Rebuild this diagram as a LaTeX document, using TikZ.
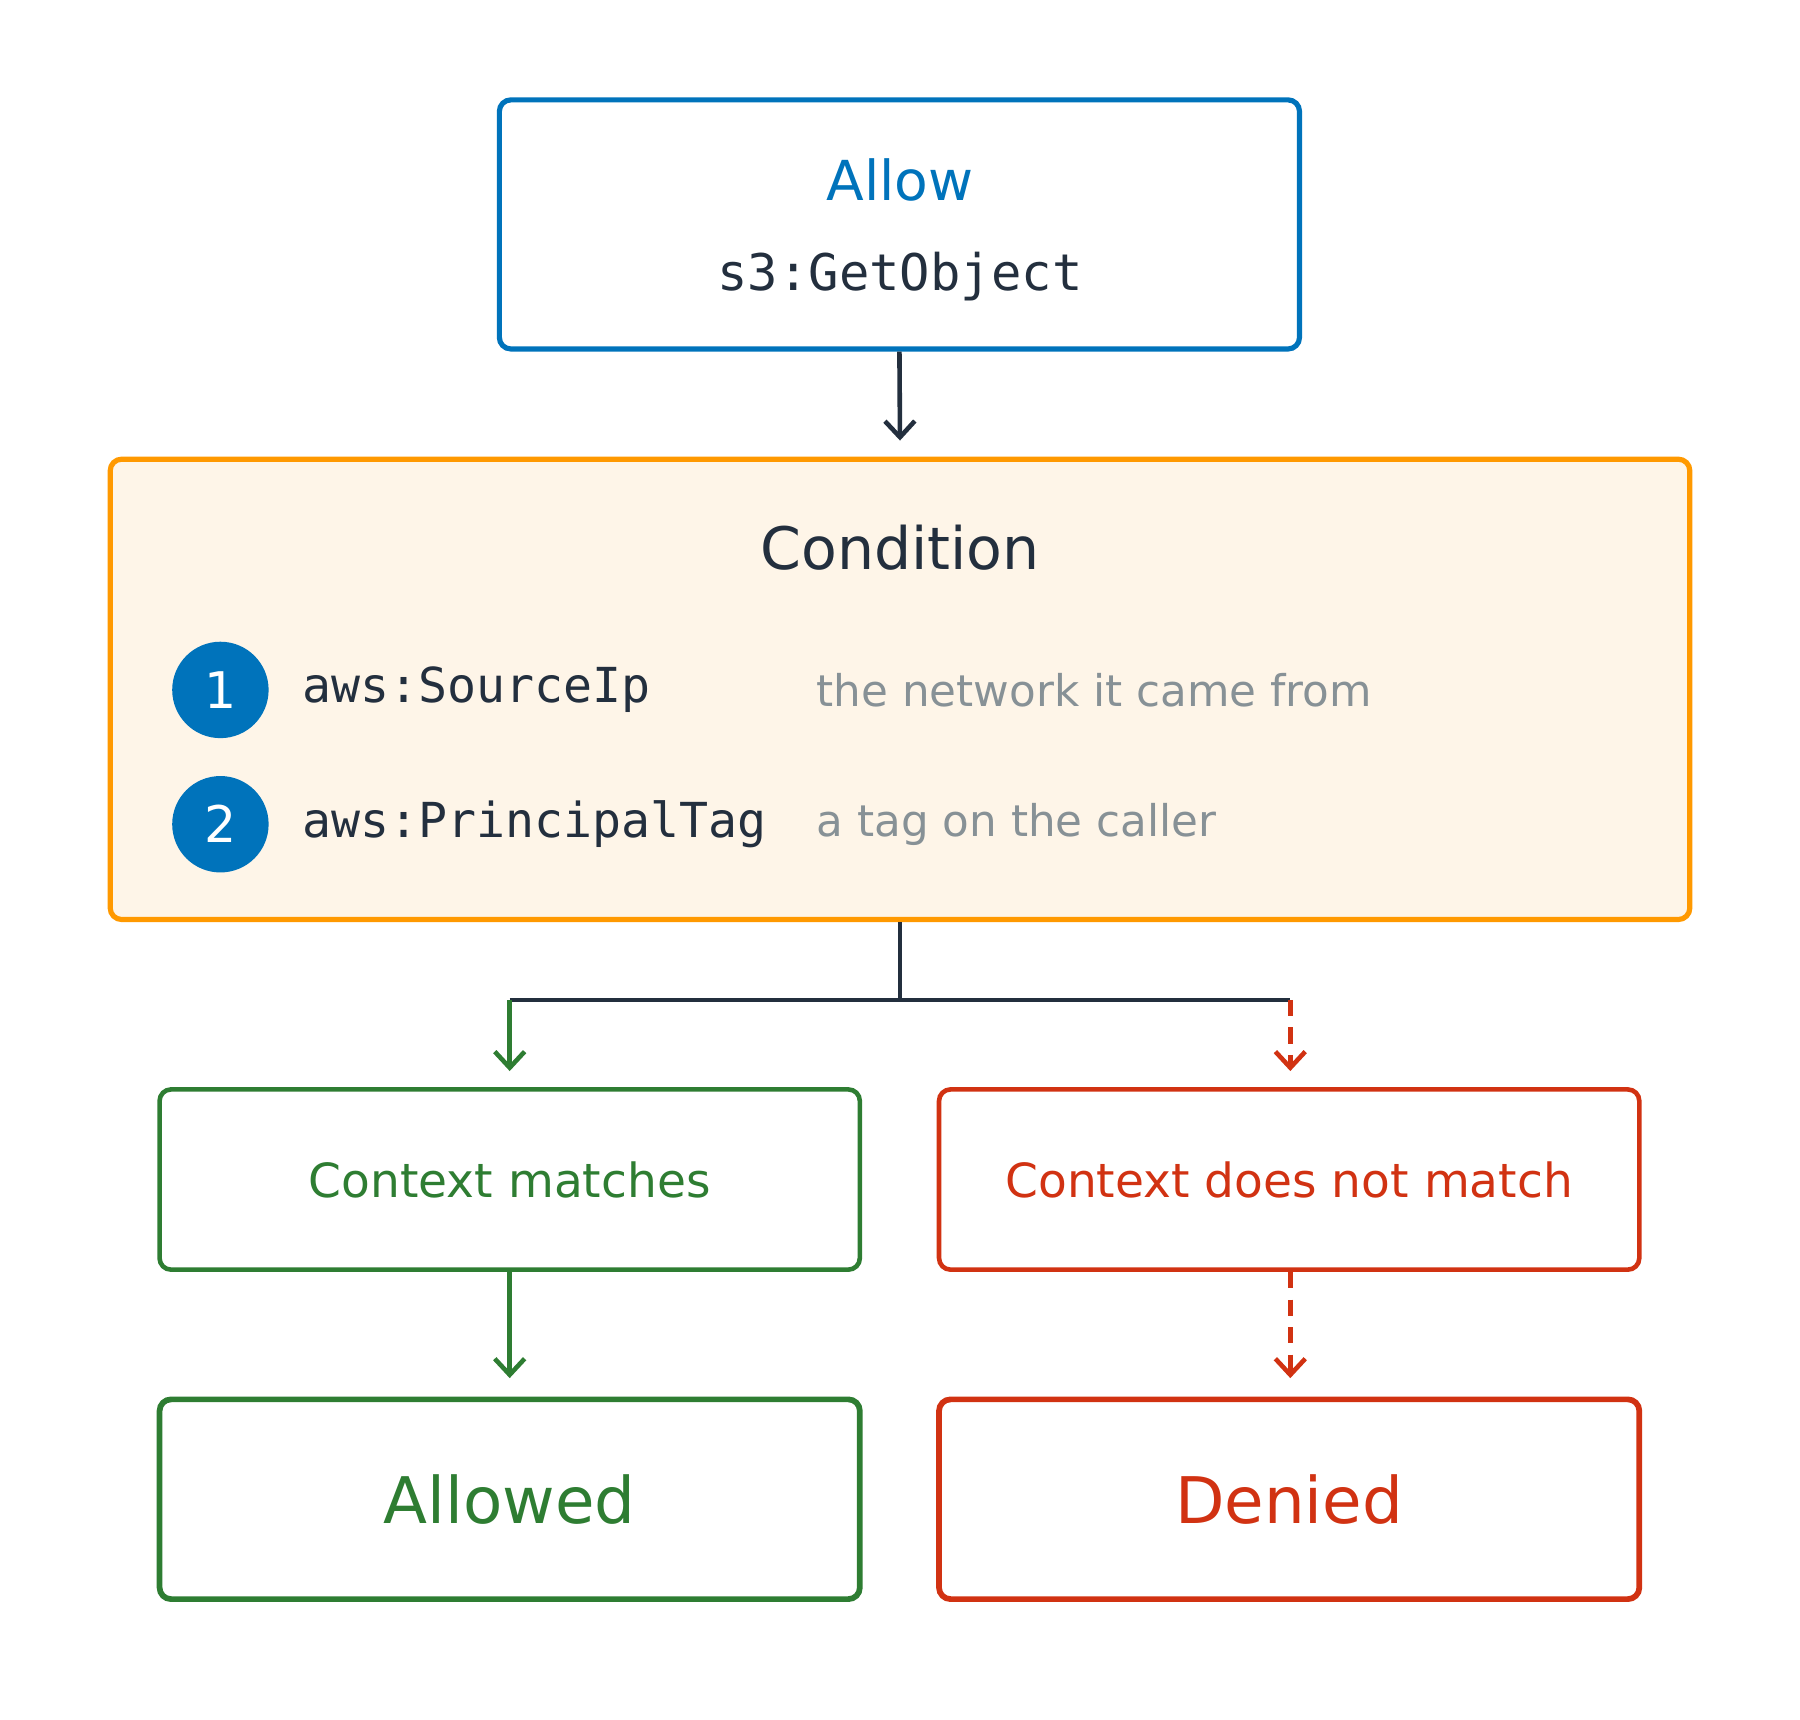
\documentclass[tikz,border=0pt]{standalone}
\usepackage{fontspec}
\setmainfont{DejaVu Sans}
\newfontfamily\mono{DejaVu Sans Mono}
\usetikzlibrary{arrows.meta}
\definecolor{awsblue}{HTML}{0073BB}
\definecolor{ink}{HTML}{232F3E}
\definecolor{okgreen}{HTML}{2E7D32}
\definecolor{nored}{HTML}{D13212}
\definecolor{muted}{HTML}{879196}
\definecolor{orng}{HTML}{FF9900}
\definecolor{cream}{HTML}{FEF5E8}
\begin{document}
\begin{tikzpicture}[x=1pt,y=-1pt,
  box/.style={draw,line width=4.5pt,rounded corners=10pt,inner sep=0pt},
  arr/.style={line width=4.5pt,-{Straight Barb[length=14pt,width=26pt,line width=4pt]}},
  num/.style={circle,fill=awsblue,minimum size=84pt,inner sep=0pt,text=white,font=\fontsize{44}{44}\selectfont},
  code/.style={anchor=west,text=ink,font=\mono\fontsize{42}{42}\selectfont},
  desc/.style={anchor=west,text=muted,font=\fontsize{38}{38}\selectfont}]
\useasboundingbox (0,0) rectangle (1568,1498);
\node[box,draw=awsblue,minimum width=697pt,minimum height=217pt] (allow) at (783.5,195.5) {};
\node[text=awsblue,font=\fontsize{48}{48}\selectfont] (allowt) at (784,157) {Allow};
\node[text=ink,font=\mono\fontsize{44}{44}\selectfont] (act) at (784,241) {s3:GetObject};
\node[box,draw=orng,fill=cream,minimum width=1376pt,minimum height=401pt] (cond) at (784,600.5) {};
\node[text=ink,font=\fontsize{51}{51}\selectfont] (condt) at (784,477) {Condition};
\node[num] (n1) at (192,601) {1};
\node[num] (n2) at (192,718) {2};
\node[code] (k1) at (260,601) {aws:SourceIp};
\node[code] (k2) at (260,718) {aws:PrincipalTag};
\node[desc] (d1) at (708,601) {the network it came from};
\node[desc] (d2) at (708,718) {a tag on the caller};
\node[box,draw=okgreen,line width=4pt,minimum width=610pt,minimum height=157pt,text=okgreen,font=\fontsize{41}{41}\selectfont] (match) at (444,1027.5) {Context matches};
\node[box,draw=nored,line width=4pt,minimum width=610pt,minimum height=157pt,text=nored,font=\fontsize{41}{41}\selectfont] (nomatch) at (1123,1027.5) {Context does not match};
\node[box,draw=okgreen,line width=5pt,minimum width=610pt,minimum height=174pt,text=okgreen,font=\fontsize{56}{56}\selectfont] (allowed) at (444,1306) {Allowed};
\node[box,draw=nored,line width=5pt,minimum width=610pt,minimum height=174pt,text=nored,font=\fontsize{56}{56}\selectfont] (denied) at (1123,1306) {Denied};
\coordinate (fork) at (784,871);
\coordinate (gl) at (444,871);
\coordinate (rl) at (1124,871);
\draw[arr,draw=ink,line width=4pt] (allow.south) -- ([yshift=14pt]cond.north);
\draw[ink,line width=4pt] (cond.south) -- (fork);
\draw[ink,line width=4pt] (gl) -- (rl);
\draw[arr,draw=okgreen] (gl) -- ([yshift=14pt]match.north -| gl);
\draw[arr,draw=nored,dash pattern=on 14pt off 10pt] (rl) -- ([yshift=14pt]nomatch.north -| rl);
\draw[arr,draw=okgreen] (match.south) -- ([yshift=16pt]allowed.north);
\draw[arr,draw=nored,dash pattern=on 14pt off 10pt] (nomatch.south -| rl) -- ([yshift=16pt]denied.north -| rl);
\end{tikzpicture}
\end{document}
